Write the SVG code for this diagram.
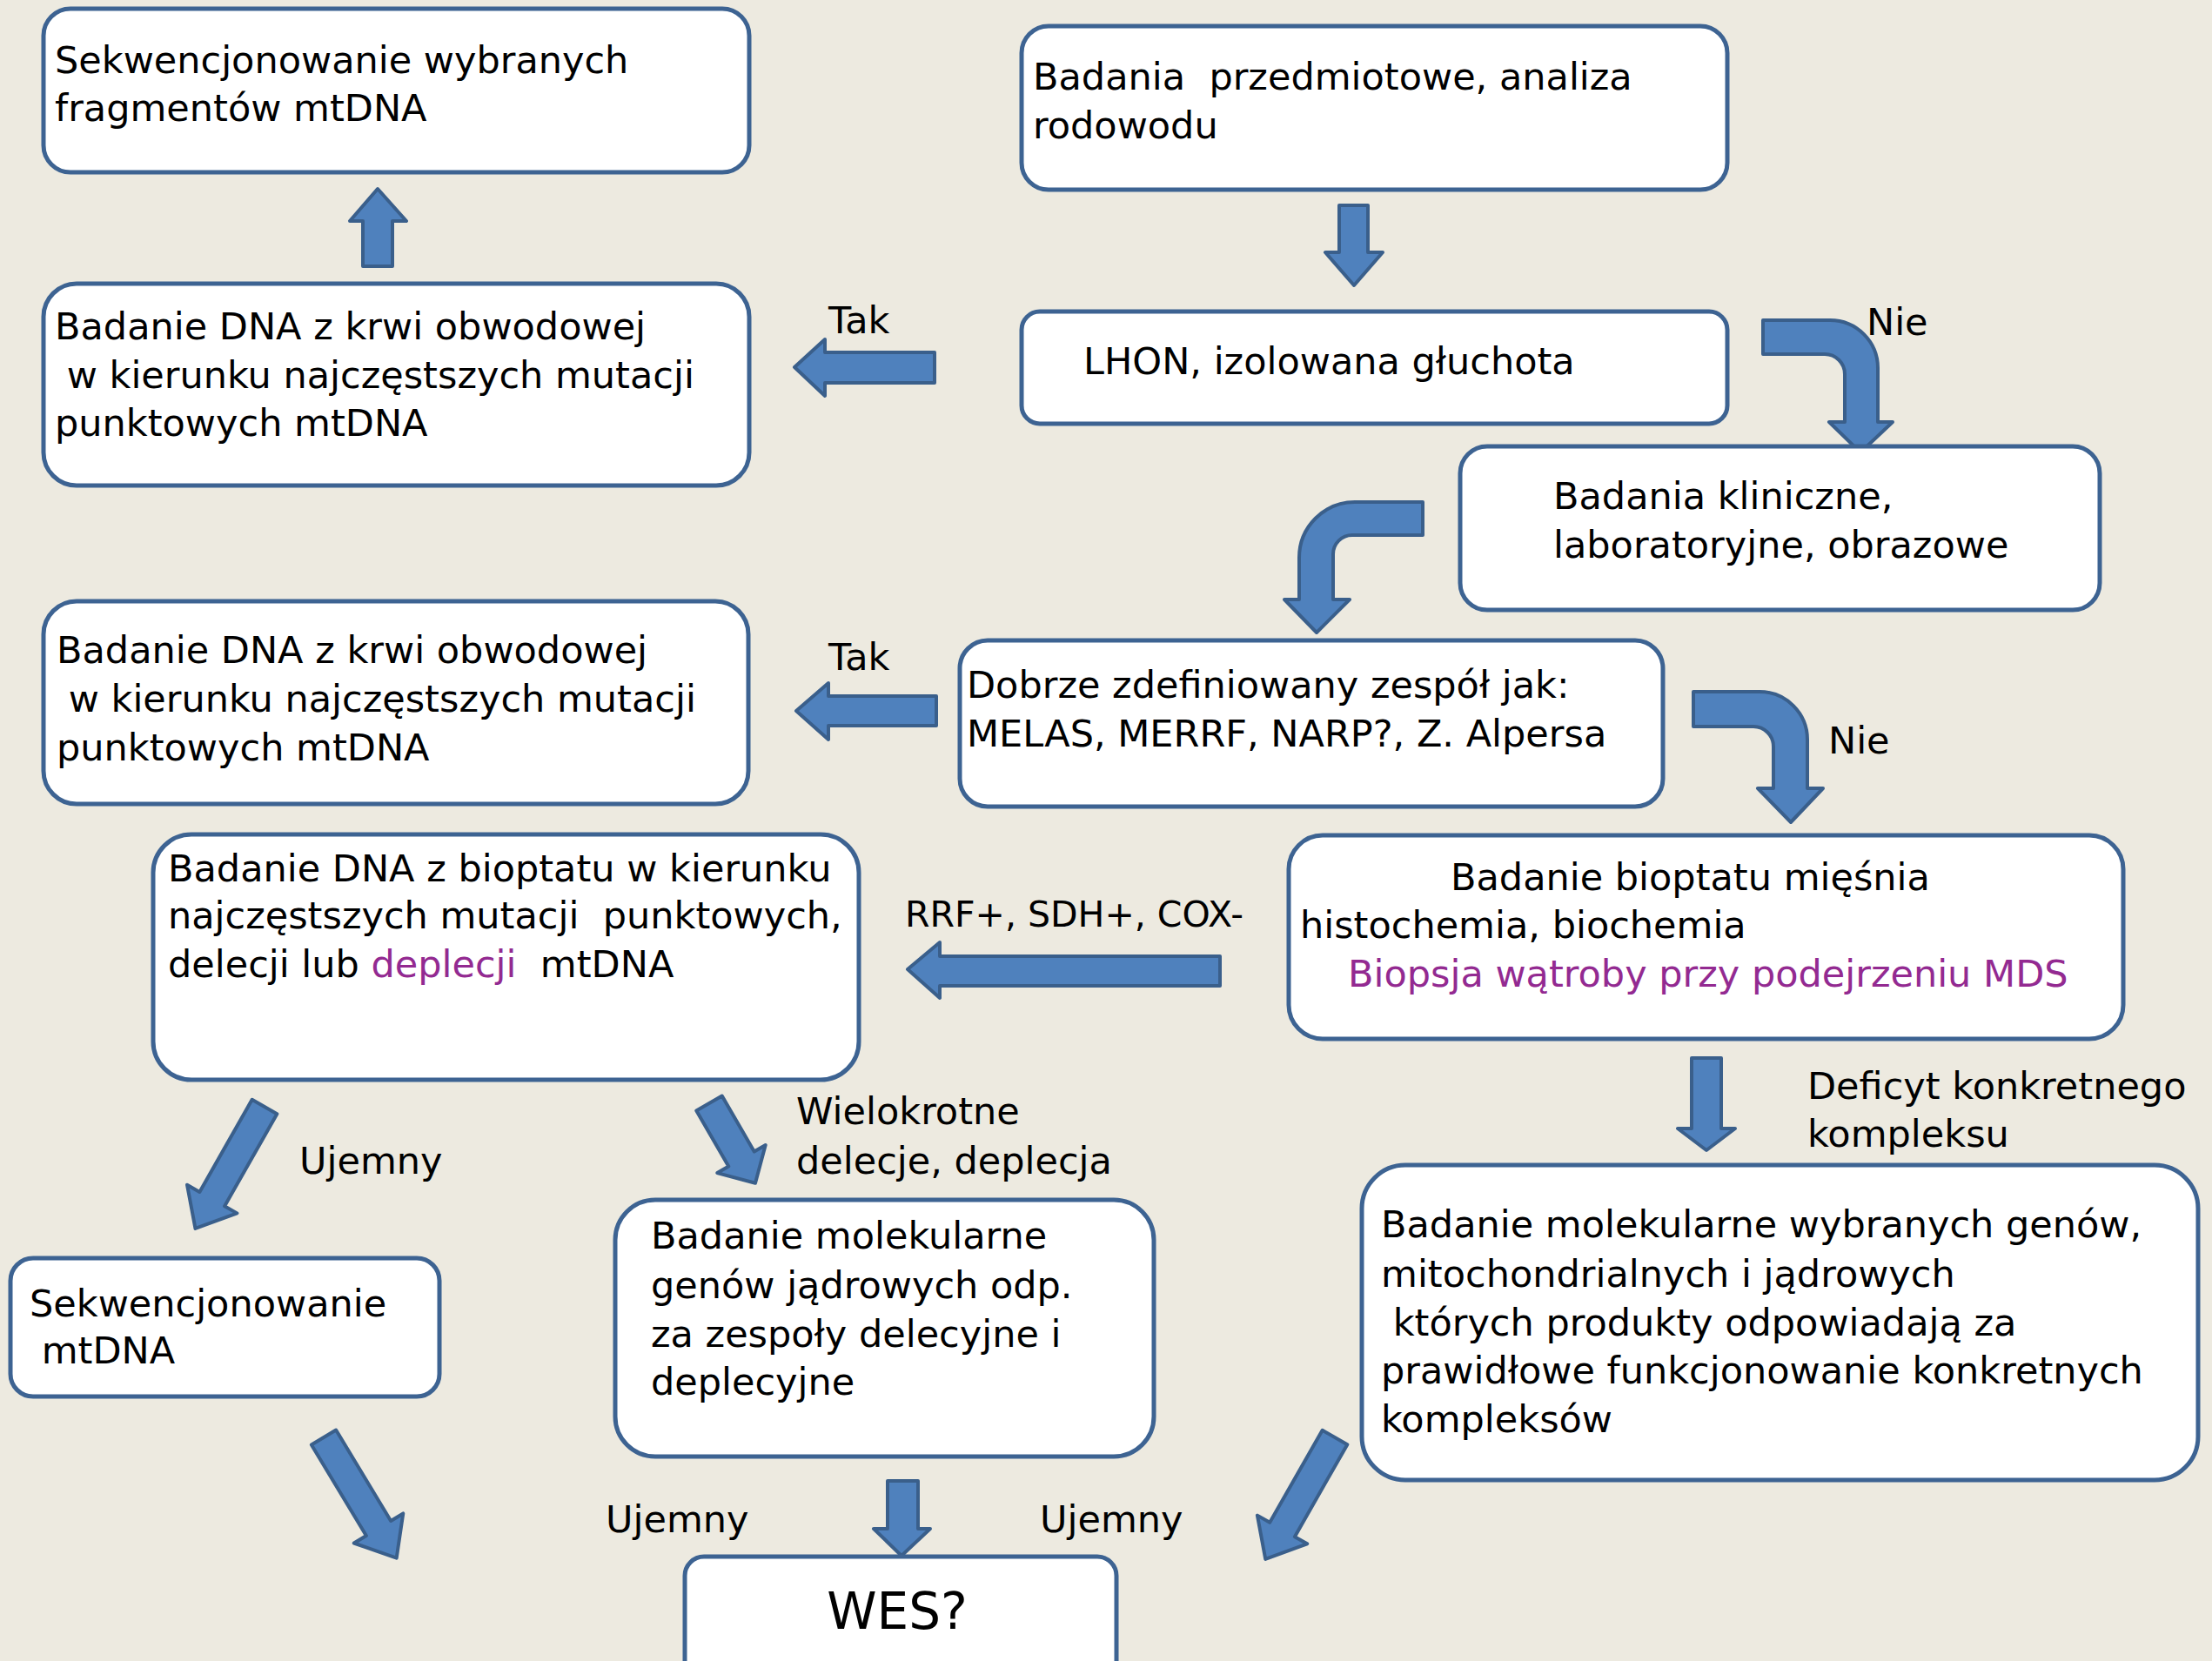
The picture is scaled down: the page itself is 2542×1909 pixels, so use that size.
<svg xmlns="http://www.w3.org/2000/svg" width="2542" height="1909" viewBox="0 0 2542 1909">
<style>
.box{fill:#ffffff;stroke:#3D6392;stroke-width:5}
.arr{fill:#4F81BD;stroke:#3A5F8B;stroke-width:4;stroke-linejoin:round}
text{font-family:"DejaVu Sans","Liberation Sans",sans-serif;font-size:43px;fill:#000;white-space:pre}
.p{fill:#932A91}
.big{font-size:58px}
.sm{font-size:41px}
</style>
<rect width="2542" height="1909" fill="#EDEAE0"/>

<g id="connectors">
  <polygon class="arr" points="417,306 417,254 402,254 434,217 467,254 451,254 451,306"/>
  <polygon class="arr" points="1539,236 1572,236 1572,290 1589,290 1556,328 1523,290 1539,290"/>
  <polygon class="arr" points="1074,405 948,405 948,390 913,422 948,455 948,440 1074,440"/>
  <path class="arr" d="M2026,368 L2103,368 A55,55 0 0 1 2158,423 L2158,485 L2175,485 L2138,520 L2102,485 L2120,485 L2120,430 A23,23 0 0 0 2097,407 L2026,407 Z"/>
  <path class="arr" d="M1635,577 L1557,577 A64,64 0 0 0 1493,641 L1493,689 L1476,689 L1513,727 L1551,689 L1532,689 L1532,637 A22,22 0 0 1 1554,615 L1635,615 Z"/>
  <polygon class="arr" points="1076,800 952,800 952,785 915,817 952,850 952,834 1076,834"/>
  <path class="arr" d="M1946,795 L2022,795 A55,55 0 0 1 2077,850 L2077,906 L2095,906 L2058,945 L2020,906 L2038,906 L2038,858 A23,23 0 0 0 2015,835 L1946,835 Z"/>
  <polygon class="arr" points="1402,1099 1080,1099 1080,1083 1043,1114 1080,1147 1080,1133 1402,1133"/>
  <polygon class="arr" points="1944,1216 1978,1216 1978,1297 1994,1297 1961,1322 1928,1297 1944,1297"/>
  <path class="arr" transform="translate(304,1272) rotate(119.6)" d="M0,-16.5 L122,-16.5 L122,-33 L161,0 L122,33 L122,16.5 L0,16.5 Z"/>
  <path class="arr" transform="translate(815,1268) rotate(60)" d="M0,-17 L74,-17 L74,-32 L106,0 L74,32 L74,17 L0,17 Z"/>
  <path class="arr" transform="translate(372,1652) rotate(58.9)" d="M0,-16.5 L122,-16.5 L122,-33 L162,0 L122,33 L122,16.5 L0,16.5 Z"/>
  <path class="arr" transform="translate(1534,1652) rotate(119.7)" d="M0,-16.5 L122,-16.5 L122,-33 L161,0 L122,33 L122,16.5 L0,16.5 Z"/>
  <polygon class="arr" points="1020,1702 1055,1702 1055,1757 1069,1757 1036,1788 1004,1757 1020,1757"/>
</g>

<g id="labels">
  <text x="952" y="383">Tak</text>
  <text x="2145" y="385">Nie</text>
  <text x="952" y="770">Tak</text>
  <text x="2101" y="866">Nie</text>
  <text x="1040" y="1065" class="sm">RRF+, SDH+, COX-</text>
  <text x="2077" y="1263">Deficyt konkretnego</text>
  <text x="2077" y="1318">kompleksu</text>
  <text x="344" y="1349">Ujemny</text>
  <text x="915" y="1292">Wielokrotne</text>
  <text x="915" y="1349">delecje, deplecja</text>
  <text x="696" y="1761">Ujemny</text>
  <text x="1195" y="1761">Ujemny</text>
</g>

<g id="n-seq-fragments">
  <rect class="box" x="50" y="10" width="811" height="188" rx="31"/>
  <text x="63" y="84">Sekwencjonowanie wybranych</text>
  <text x="63" y="139">fragmentów mtDNA</text>
</g>
<g id="n-przedmiotowe">
  <rect class="box" x="1174" y="30" width="811" height="188" rx="31"/>
  <text x="1187" y="103">Badania  przedmiotowe, analiza</text>
  <text x="1187" y="159">rodowodu</text>
</g>
<g id="n-lhon">
  <rect class="box" x="1174" y="358" width="811" height="129" rx="21"/>
  <text x="1245" y="430">LHON, izolowana głuchota</text>
</g>
<g id="n-krew1">
  <rect class="box" x="50" y="326" width="811" height="232" rx="38"/>
  <text x="63" y="390">Badanie DNA z krwi obwodowej</text>
  <text x="63" y="446"> w kierunku najczęstszych mutacji</text>
  <text x="63" y="501">punktowych mtDNA</text>
</g>
<g id="n-kliniczne">
  <rect class="box" x="1678" y="513" width="735" height="188" rx="31"/>
  <text x="1785" y="585">Badania kliniczne,</text>
  <text x="1785" y="641">laboratoryjne, obrazowe</text>
</g>
<g id="n-zespol">
  <rect class="box" x="1103" y="736" width="808" height="191" rx="32"/>
  <text x="1111" y="802">Dobrze zdefiniowany zespół jak:</text>
  <text x="1111" y="858">MELAS, MERRF, NARP?, Z. Alpersa</text>
</g>
<g id="n-krew2">
  <rect class="box" x="50" y="691" width="810" height="233" rx="38"/>
  <text x="65" y="762">Badanie DNA z krwi obwodowej</text>
  <text x="65" y="818"> w kierunku najczęstszych mutacji</text>
  <text x="65" y="874">punktowych mtDNA</text>
</g>
<g id="n-bioptat-miesnia">
  <rect class="box" x="1481" y="960" width="959" height="234" rx="39"/>
  <text x="1667" y="1023">Badanie bioptatu mięśnia</text>
  <text x="1494" y="1078">histochemia, biochemia</text>
  <text x="1549" y="1134" class="p">Biopsja wątroby przy podejrzeniu MDS</text>
</g>
<g id="n-dna-bioptat">
  <rect class="box" x="176" y="959" width="811" height="282" rx="44"/>
  <text x="193" y="1013">Badanie DNA z bioptatu w kierunku</text>
  <text x="193" y="1067">najczęstszych mutacji  punktowych,</text>
  <text x="193" y="1123">delecji lub <tspan class="p">deplecji</tspan>  mtDNA</text>
</g>
<g id="n-seq-mtdna">
  <rect class="box" x="12" y="1446" width="493" height="159" rx="26"/>
  <text x="34" y="1513">Sekwencjonowanie</text>
  <text x="34" y="1567"> mtDNA</text>
</g>
<g id="n-jadrowe">
  <rect class="box" x="707" y="1379" width="619" height="295" rx="46"/>
  <text x="748" y="1435">Badanie molekularne</text>
  <text x="748" y="1492">genów jądrowych odp.</text>
  <text x="748" y="1548">za zespoły delecyjne i</text>
  <text x="748" y="1603">deplecyjne</text>
</g>
<g id="n-wybrane-geny">
  <rect class="box" x="1565" y="1339" width="961" height="362" rx="50"/>
  <text x="1587" y="1422">Badanie molekularne wybranych genów,</text>
  <text x="1587" y="1479">mitochondrialnych i jądrowych</text>
  <text x="1587" y="1535"> których produkty odpowiadają za</text>
  <text x="1587" y="1590">prawidłowe funkcjonowanie konkretnych</text>
  <text x="1587" y="1646">kompleksów</text>
</g>
<g id="n-wes">
  <rect class="box" x="787" y="1789" width="496" height="180" rx="22"/>
  <text x="1031" y="1872" class="big" text-anchor="middle">WES?</text>
</g>
</svg>
